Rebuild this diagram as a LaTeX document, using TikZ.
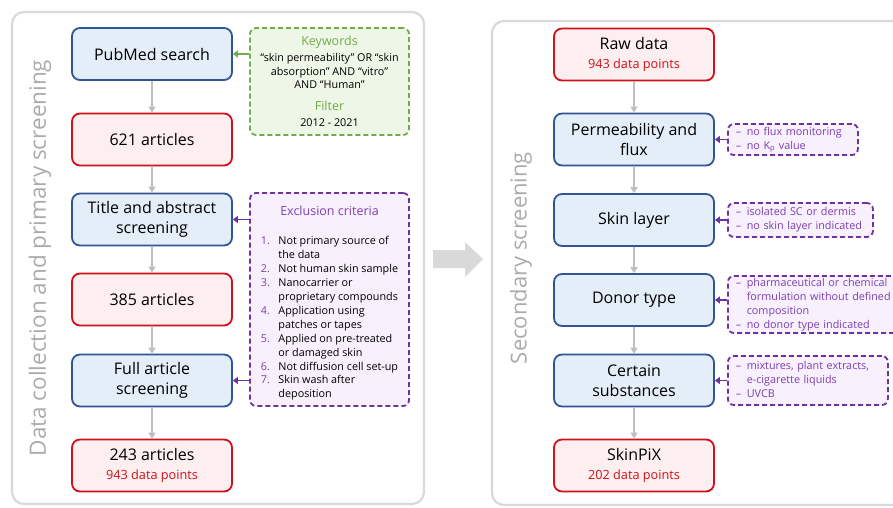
\documentclass[tikz,border=0pt]{standalone}
\usepackage{fontspec}
\setmainfont{Open Sans}
\usetikzlibrary{arrows.meta}
\definecolor{bluefill}{HTML}{E4EEF8}
\definecolor{blueline}{HTML}{2F5597}
\definecolor{redfill}{HTML}{FDEFEF}
\definecolor{redline}{HTML}{D0101A}
\definecolor{redtext}{HTML}{D0101A}
\definecolor{greenline}{HTML}{70AD47}
\definecolor{greenfill}{HTML}{EEF6E8}
\definecolor{purpleline}{HTML}{7030A0}
\definecolor{purplefill}{HTML}{F8F0FD}
\definecolor{purpletext}{HTML}{7B3FB0}
\definecolor{arrowgray}{HTML}{BFBFBF}
\definecolor{panelgray}{HTML}{D9D9D9}
\definecolor{labelgray}{HTML}{ABABAB}
\tikzset{
  mainbox/.style={draw, line width=1.8pt, rounded corners=8pt, minimum width=160pt, minimum height=52pt, align=center, font=\fontsize{16}{20}\selectfont, inner sep=2pt},
  bluebox/.style={mainbox, draw=blueline, fill=bluefill},
  redbox/.style={mainbox, draw=redline, fill=redfill},
  greenbox/.style={draw=greenline, fill=greenfill, dash pattern=on 5pt off 3pt, line width=1.8pt, rounded corners=6pt, align=center, inner sep=0pt, font=\fontsize{10.8}{13.5}\selectfont},
  purplebox/.style={draw=purpleline, fill=purplefill, dash pattern=on 5pt off 3pt, line width=1.8pt, rounded corners=6pt, inner sep=0pt},
  flow/.style={draw=arrowgray, line width=1.6pt, -{Triangle[length=6pt,width=7pt]}},
  sidegreen/.style={draw=greenline, line width=1.8pt, -{Triangle[length=5pt,width=7pt]}},
  sidepurple/.style={draw=purpleline, line width=1.8pt, -{Triangle[length=5pt,width=7pt]}},
  panel/.style={draw=panelgray, line width=2.2pt, rounded corners=12pt},
  sidelabel/.style={text=labelgray, rotate=90}
}
\newcommand{\dpts}[1]{\\[-1.5pt]{\fontsize{12.7}{14}\selectfont\color{redtext}#1}}
\newcommand{\critlist}[1]{\begin{tabular}{@{\hspace{8pt}}l@{\hspace{5.5pt}}l@{}}#1\end{tabular}}
\begin{document}
\begin{tikzpicture}[x=1pt,y=-1pt]
\useasboundingbox (0,0) rectangle (893,507);
\clip (0,0) rectangle (893,507);
% panels
\draw[panel] (12,12) rectangle (424,504);
\draw[panel] (492,21) rectangle (930,505);
\node[sidelabel, font=\fontsize{22.5}{26}\selectfont] (lbl1) at (40,258) {Data collection and primary screening};
\node[sidelabel, font=\fontsize{22}{26}\selectfont] (lbl2) at (521,258) {Secondary screening};
% big arrow
\fill[panelgray] (433,250) -- (465,250) -- (465,242) -- (483,259) -- (465,277) -- (465,268) -- (433,268) -- cycle;
% left column
\node[bluebox] (pub) at (152,54) {PubMed search};
\node[redbox] (a621) at (152,139.5) {621 articles};
\node[bluebox] (title) at (152,219.5) {Title and abstract\\screening};
\node[redbox] (a385) at (152,299.5) {385 articles};
\node[bluebox] (full) at (152,380.5) {Full article\\screening};
\node[redbox] (a243) at (152,465.5) {243 articles\dpts{943 data points}};
\foreach \a/\b in {pub/a621,a621/title,title/a385,a385/full,full/a243}
  \draw[flow] (\a) -- (\b);
% green box
\node[greenbox, minimum width=159pt, minimum height=107pt] (kw) at (329.5,81.5)
 {{\fontsize{12.5}{14}\selectfont\color{greenline}Keywords}\\[2.5pt]
  ``skin permeability'' OR ``skin\\
  absorption'' AND ``vitro''\\
  AND ``Human''\\[8.5pt]
  {\fontsize{12.5}{14}\selectfont\color{greenline}Filter}\\[2.5pt]
  2012 - 2021};
\draw[sidegreen] (kw.west |- pub.east) -- (pub.east);
% exclusion box
\node[purplebox, minimum width=159pt, minimum height=213pt, align=center, font=\fontsize{10.8}{13.9}\selectfont] (excl) at (329.5,299.5)
 {\rule{0pt}{18pt}{\fontsize{12.5}{14}\selectfont\color{purpletext}Exclusion criteria}\\[16pt]
  \begin{tabular}[t]{@{}r@{\hspace{8.5pt}}l@{}}
  \color{purpletext}1. & Not primary source of\\
   & the data\\
  \color{purpletext}2. & Not human skin sample\\
  \color{purpletext}3. & Nanocarrier or\\
   & proprietary compounds\\
  \color{purpletext}4. & Application using\\
   & patches or tapes\\
  \color{purpletext}5. & Applied on pre-treated\\
   & or damaged skin\\
  \color{purpletext}6. & Not diffusion cell set-up\\
  \color{purpletext}7. & Skin wash after\\
   & deposition
  \end{tabular}};
\draw[sidepurple] (excl.west |- title.east) -- (title.east);
\draw[sidepurple] (excl.west |- full.east) -- (full.east);
% right column
\node[redbox] (raw) at (634,54.5) {Raw data\dpts{943 data points}};
\node[bluebox] (perm) at (634,139.5) {Permeability and\\flux};
\node[bluebox] (skin) at (634,220) {Skin layer};
\node[bluebox] (donor) at (634,300) {Donor type};
\node[bluebox] (cert) at (634,380.5) {Certain\\substances};
\node[redbox] (pix) at (634,465.5) {SkinPiX\dpts{202 data points}};
\foreach \a/\b in {raw/perm,perm/skin,skin/donor,donor/cert,cert/pix}
  \draw[flow] (\a) -- (\b);
\tikzset{crit/.style={purplebox, anchor=west, text=purpletext, align=left, font=\fontsize{10.8}{14}\selectfont}}
\node[crit, text width=130pt, minimum height=31pt] (cperm) at (727,139.5)
 {\critlist{– & no flux monitoring\\ – & no K\textsubscript{p} value}};
\node[crit, text width=145pt, minimum height=34pt] (cskin) at (727,220)
 {\critlist{– & isolated SC or dermis\\ – & no skin layer indicated}};
\node[crit, text width=185pt, minimum height=57pt] (cdonor) at (727,304.5)
 {\critlist{– & pharmaceutical or chemical\\ & formulation without defined\\ & composition\\ – & no donor type indicated}};
\node[crit, text width=160pt, minimum height=49pt] (ccert) at (727,380.5)
 {\critlist{– & mixtures, plant extracts,\\ & e-cigarette liquids\\ – & UVCB}};
\draw[sidepurple] (cperm.west |- perm.east) -- (perm.east);
\draw[sidepurple] (cskin.west |- skin.east) -- (skin.east);
\draw[sidepurple] (cdonor.west |- donor.east) -- (donor.east);
\draw[sidepurple] (ccert.west |- cert.east) -- (cert.east);
\end{tikzpicture}
\end{document}
